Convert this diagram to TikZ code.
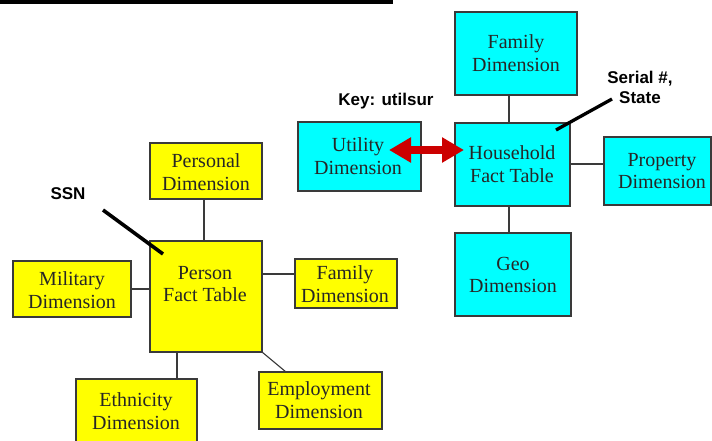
\documentclass[tikz,border=0pt]{standalone}
\usepackage{fontspec}
\setmainfont{Liberation Serif}
\newfontfamily\labelfont{Liberation Sans}
\usetikzlibrary{arrows.meta}
\definecolor{cyanbox}{HTML}{00FFFF}
\definecolor{yellowbox}{HTML}{FFFF00}
\definecolor{edgegray}{HTML}{3A3A3A}
\definecolor{arrowred}{HTML}{CC0000}
\tikzset{
  tbox/.style={draw=edgegray, line width=1.3pt, inner sep=0pt, outer sep=0pt},
  cbox/.style={tbox, fill=cyanbox},
  ybox/.style={tbox, fill=yellowbox},
  btext/.style={font=\fontsize{20}{22.8}\selectfont, align=center, inner sep=0pt, text=black!85},
  klabel/.style={font=\labelfont\bfseries\fontsize{17}{20}\selectfont, align=center, inner sep=0pt},
  conn/.style={draw=edgegray, line width=1.1pt},
  pointer/.style={draw=black, line width=3.6pt},
}
% box: name, x1, y1, x2, y2, style
\newcommand{\mybox}[6]{%
  \node[#6, minimum width={(#4-#2)*1pt}, minimum height={(#5-#3)*1pt}] (#1) at ({(#2+#4)/2},{(#3+#5)/2}) {};}
\begin{document}
\begin{tikzpicture}[x=1pt,y=-1pt]
\useasboundingbox (0,0) rectangle (712,440);
\fill[white] (0,0) rectangle (712,440);
\begin{scope}
\clip (0,0) rectangle (712,440);
% top rule
\coordinate (ruleA) at (0,2.2);
\coordinate (ruleB) at (393,2.2);
\draw[line width=3.6pt] (ruleA) -- (ruleB);

% household star (cyan)
\mybox{hfam}{455}{12}{577}{95}{cbox}
\mybox{hh}{455}{123}{570}{206}{cbox}
\mybox{prop}{604}{137}{711}{205}{cbox}
\mybox{geo}{455}{233}{571}{316}{cbox}
\mybox{util}{298}{122}{421}{191}{cbox}

% person star (yellow)
\mybox{pers}{150}{143}{262}{199}{ybox}
\mybox{pft}{150}{241}{262}{352}{ybox}
\mybox{mil}{13}{261}{131}{317}{ybox}
\mybox{pfam}{295}{259}{397}{308}{ybox}
\mybox{eth}{76}{379}{197}{446}{ybox}
\mybox{emp}{259}{372}{382}{429}{ybox}

% connectors
\draw[conn] (hfam.south -| 509,0) -- (hh.north -| 509,0);
\draw[conn] (hh.south -| 509,0) -- (geo.north -| 509,0);
\draw[conn] (hh.east |- 0,164) -- (prop.west |- 0,164);
\draw[conn] (pers.south -| 204,0) -- (pft.north -| 204,0);
\draw[conn] (mil.east |- 0,289) -- (pft.west |- 0,289);
\draw[conn] (pft.east |- 0,274) -- (pfam.west |- 0,274);
\draw[conn] (pft.south -| 177,0) -- (eth.north -| 177,0);
\draw[conn] (pft.south east) -- (emp.north -| 286,0);

% texts
\node[btext] (t-hfam) at (516,53) {Family\\Dimension};
\node[btext] (t-hh) at (512,164) {Household\\Fact Table};
\node[btext] (t-prop) at (662,171) {Property\\Dimension};
\node[btext] (t-geo) at (513,275) {Geo\\Dimension};
\node[btext] (t-util) at (358,156) {Utility\\Dimension};
\node[btext] (t-pers) at (206,172) {Personal\\Dimension};
\node[btext] (t-pft) at (205,284) {Person\\Fact Table};
\node[btext] (t-mil) at (72,290) {Military\\Dimension};
\node[btext] (t-pfam) at (345,284) {Family\\Dimension};
\node[btext] (t-eth) at (136,411) {Ethnicity\\Dimension};
\node[btext] (t-emp) at (319,400) {Employment\\Dimension};

% key labels and pointers
\node[klabel] (key) at (386,101) {Key: utilsur};
\node[klabel] (serial) at (640,87) {Serial \#,\\State};
\node[klabel] (ssn) at (68,194) {SSN};
\coordinate (ssnA) at (103,210);
\coordinate (ssnB) at (163,254);
\draw[pointer] (ssnA) -- (ssnB);
\coordinate (serA) at (612,99);
\coordinate (serB) at (556,130);
\draw[pointer, line width=3.3pt] (serA) -- (serB);

% red double arrow
\coordinate (arL) at (389,150);
\coordinate (arR) at (464,150);
\draw[draw=arrowred, line width=8pt,
  {Triangle[width=24pt,length=22pt]}-{Triangle[width=24pt,length=22pt]}] (arL) -- (arR);
\end{scope}
\end{tikzpicture}
\end{document}
